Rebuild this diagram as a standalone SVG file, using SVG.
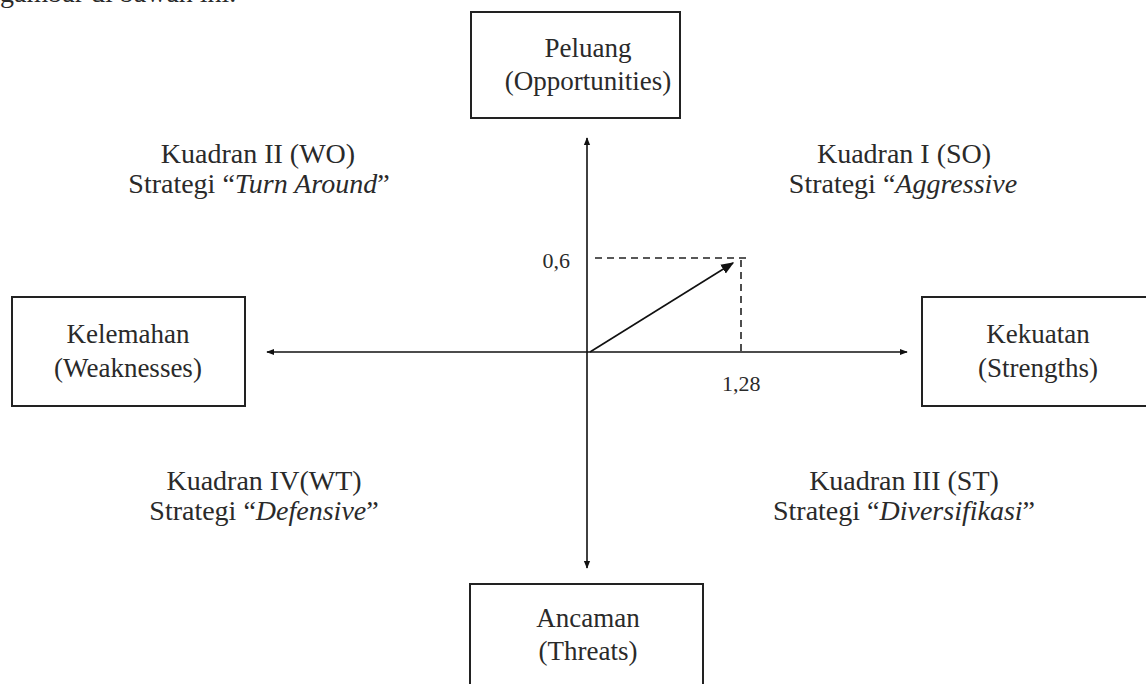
<svg xmlns="http://www.w3.org/2000/svg" width="1146" height="684" viewBox="0 0 1146 684">
<style>
text{font-family:"Liberation Serif","Times New Roman",serif;fill:#2a2a2a;}
.b{font-size:27px;text-anchor:middle;}
.q{font-size:28px;text-anchor:middle;}
.n{font-size:22px;}
.box{fill:#fff;stroke:#222;stroke-width:2;}
.ax{stroke:#111;stroke-width:1.6;fill:none;}
.dash{stroke:#222;stroke-width:1.6;stroke-dasharray:7 5;fill:none;}
i,.it{font-style:italic;}
</style>
<defs>
<marker id="ah" viewBox="0 0 10 10" refX="9" refY="5" markerWidth="8" markerHeight="8" markerUnits="userSpaceOnUse" orient="auto">
<path d="M0,1 L10,5 L0,9 Z" fill="#111"/>
</marker>
<marker id="ah2" viewBox="0 0 10 10" refX="9" refY="5" markerWidth="13" markerHeight="13" markerUnits="userSpaceOnUse" orient="auto">
<path d="M0,1 L10,5 L0,9 Z" fill="#111"/>
</marker>
</defs>
<rect width="1146" height="684" fill="#fff"/>
<text x="0" y="2" style="font-size:28px">gambar di bawah ini.</text>
<g id="connectors">
<line class="ax" x1="587" y1="352" x2="267" y2="352" marker-end="url(#ah)"/>
<line class="ax" x1="587" y1="352" x2="907" y2="352" marker-end="url(#ah)"/>
<line class="ax" x1="587" y1="352" x2="587" y2="138" marker-end="url(#ah)"/>
<line class="ax" x1="587" y1="352" x2="587" y2="568" marker-end="url(#ah)"/>
<line class="dash" x1="595" y1="258" x2="746" y2="258"/>
<line class="dash" x1="741" y1="260" x2="741" y2="352"/>
<line class="ax" x1="590" y1="352" x2="733" y2="263" marker-end="url(#ah2)"/>
</g>
<g id="node-peluang">
<rect class="box" x="471" y="12" width="209" height="106"/>
<text class="b" x="588" y="57">Peluang</text>
<text class="b" x="588" y="90">(Opportunities)</text>
</g>
<g id="node-kelemahan">
<rect class="box" x="12" y="297" width="233" height="109"/>
<text class="b" x="128" y="343">Kelemahan</text>
<text class="b" x="128" y="377">(Weaknesses)</text>
</g>
<g id="node-kekuatan">
<rect class="box" x="922" y="297" width="240" height="109"/>
<text class="b" x="1038" y="343">Kekuatan</text>
<text class="b" x="1038" y="377">(Strengths)</text>
</g>
<g id="node-ancaman">
<rect class="box" x="470" y="584" width="233" height="110"/>
<text class="b" x="588" y="627">Ancaman</text>
<text class="b" x="588" y="660">(Threats)</text>
</g>
<g id="q2">
<text class="q" x="258" y="163">Kuadran II (WO)</text>
<text class="q" x="259" y="193">Strategi “<tspan class="it">Turn Around</tspan>”</text>
</g>
<g id="q1">
<text class="q" x="904" y="163">Kuadran I (SO)</text>
<text class="q" x="903" y="193">Strategi “<tspan class="it">Aggressive</tspan></text>
</g>
<g id="q4">
<text class="q" x="264" y="490">Kuadran IV(WT)</text>
<text class="q" x="264" y="520">Strategi “<tspan class="it">Defensive</tspan>”</text>
</g>
<g id="q3">
<text class="q" x="904" y="490">Kuadran III (ST)</text>
<text class="q" x="904" y="520">Strategi “<tspan class="it">Diversifikasi</tspan>”</text>
</g>
<g id="values">
<text class="n" x="570" y="268" text-anchor="end">0,6</text>
<text class="n" x="722" y="391">1,28</text>
</g>
</svg>
